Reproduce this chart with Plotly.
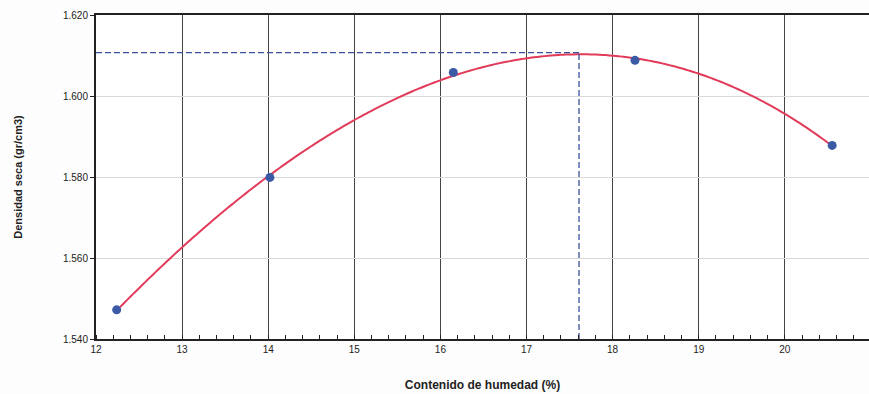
import numpy as np
import plotly.graph_objects as go

# Data
humedad = [12.24, 14.02, 16.15, 18.26, 20.55]          # Contenido de humedad (%)
densidad = [1.5472, 1.5799, 1.6058, 1.6088, 1.5878]    # Densidad seca (gr/cm3)
humedad_optima = 17.61
densidad_maxima = 1.6107
x_ticks = [12, 13, 14, 15, 16, 17, 18, 19, 20, 21]
y_ticks = [1.540, 1.560, 1.580, 1.600, 1.620]

# Trend curve (polynomial fit of the measured points)
coef = np.polyfit(humedad, densidad, 3)
xs = np.linspace(min(humedad), max(humedad), 200)
ys = np.polyval(coef, xs)

FONT = "Liberation Sans, Arial, sans-serif"
fig = go.Figure()

fig.add_trace(go.Scatter(x=xs, y=ys, mode="lines",
                         line=dict(color="#e23b5a", width=2, shape="spline", simplify=False),
                         hoverinfo="skip", showlegend=False))
fig.add_trace(go.Scatter(x=[x_ticks[0], humedad_optima], y=[densidad_maxima, densidad_maxima],
                         mode="lines", line=dict(color="#3b4f9c", width=1.3, dash="6px,3px"),
                         showlegend=False))
fig.add_trace(go.Scatter(x=[humedad_optima, humedad_optima], y=[y_ticks[0], densidad_maxima],
                         mode="lines", line=dict(color="#3b4f9c", width=1.3, dash="6px,3px"),
                         showlegend=False))
fig.add_trace(go.Scatter(x=humedad, y=densidad, mode="markers",
                         marker=dict(color="#3b5aa6", size=9), showlegend=False))

fig.update_layout(
    width=869, height=394,
    margin=dict(l=96, r=0, t=15, b=55),
    paper_bgcolor="#fdfdfd", plot_bgcolor="white",
    font=dict(family=FONT, size=10, color="#222"),
    xaxis=dict(
        range=[12, 20.978], tickvals=x_ticks, ticks="", showline=True, linecolor="#222",
        linewidth=2, mirror=True, showgrid=True, gridcolor="#444", gridwidth=1,
        zeroline=False, tickfont=dict(size=10),
        minor=dict(dtick=0.2, ticks="inside", ticklen=4, tickcolor="#222", showgrid=False),
        title=dict(text="<b>Contenido de humedad (%)</b>", font=dict(size=12), standoff=27),
    ),
    yaxis=dict(
        range=[1.540, 1.620], tickvals=y_ticks, tickformat=".3f", ticks="outside",
        ticklen=4, tickcolor="#222", showline=True, linecolor="#222", linewidth=2,
        mirror=False, showgrid=True, gridcolor="#d9d9d9", zeroline=False,
        tickfont=dict(size=10),
        title=dict(text="<b>Densidad seca (gr/cm3)</b>", font=dict(size=11), standoff=38),
    ),
)

fig.write_html("out.html")
